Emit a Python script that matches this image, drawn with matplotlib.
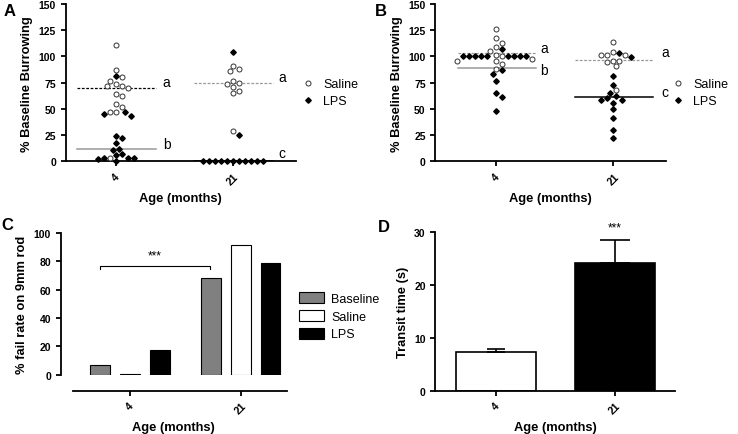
import numpy as np
import matplotlib
matplotlib.use('Agg')
import matplotlib.pyplot as plt
from matplotlib.lines import Line2D
from matplotlib.patches import Patch

plt.rcParams['font.family'] = ['Liberation Sans', 'DejaVu Sans']
plt.rcParams['axes.linewidth'] = 1.3
plt.rcParams['xtick.major.width'] = 1.3
plt.rcParams['ytick.major.width'] = 1.3

ages = ['4', '21']

# Panel A : % baseline burrowing (medians drawn)
a4_saline = [111, 87, 80, 77, 72, 70, 72, 74, 64, 62, 52, 55, 47, 47, 3]
a4_lps = [81, 45, 43, 47, 24, 22, 17, 11, 12, 7, 6, 3, 3, 3, 2, 0]
a21_saline = [91, 86, 88, 75, 74, 77, 71, 65, 67, 29]
a21_lps = [104, 25, 0, 0, 0, 0, 0, 0, 0, 0, 0, 0, 0]

# Panel B : % baseline burrowing (means drawn)
b4_saline = [126, 117.5, 113, 109, 105, 101.5, 96, 96, 98, 93, 100, 88]
b4_lps = [100, 100, 100, 100, 100, 100, 100, 100, 100, 107, 87, 83, 77, 65.5, 61, 48]
b21_saline = [113.7, 104, 101.6, 101, 101.6, 95.8, 94.6, 95.8, 90.7, 68]
b21_lps = [103.5, 99.3, 81, 73, 65, 62, 60, 58, 58, 55.7, 50, 41.7, 30, 22]

# Panel C : % fail rate on 9mm rod
c_groups = ['Baseline', 'Saline', 'LPS']
c_values = {'Baseline': [7.1, 68], 'Saline': [0.4, 91.5], 'LPS': [17.6, 78.8]}

# Panel D : transit time
d_mean = [7.3, 24.2]
d_sem = [0.5, 4.4]

TICK = 7.5
LAB = 9.3


def swarm(vals, xpx=117.0, ypx=157.0 / 150, d=6.0):
    """simple beeswarm : horizontal offsets so that points don't overlap"""
    placed = []
    offs = np.zeros(len(vals))
    order = np.argsort(-np.asarray(vals, dtype=float), kind='stable')
    cand = [0.0]
    for j in range(1, 30):
        cand += [j * d / 2, -j * d / 2]
    for i in order:
        y = vals[i] * ypx
        for c in cand:
            if all((c - px) ** 2 + (y - py) ** 2 >= (d * 0.95) ** 2 for px, py in placed):
                placed.append((c, y))
                offs[i] = c / xpx
                break
    return offs


def style(ax):
    for s in ['top', 'right']:
        ax.spines[s].set_visible(False)
    ax.tick_params(labelsize=TICK, length=3.5)
    for t in ax.get_yticklabels():
        t.set_fontweight('bold')
    ax.set_xticks([0, 1])
    ax.set_xticklabels(ages, rotation=45, fontweight='bold', fontsize=TICK)
    ax.set_xlabel('Age (months)', fontweight='bold', fontsize=LAB)


def burrow_panel(ax, groups, lines, labels, xlim):
    # groups : list of (saline, lps) for each age
    for k, (sal, lps) in enumerate(groups):
        vals = list(sal) + list(lps)
        offs = swarm(vals)
        n = len(sal)
        ax.plot(k + offs[:n], sal, 'o', mfc='white', mec='#333333', mew=0.7, ms=3.6,
                ls='none', clip_on=False, zorder=3)
        ax.plot(k + offs[n:], lps, 'D', color='black', ms=2.8, ls='none',
                clip_on=False, zorder=4)
    for k, (ys, yl, sty) in enumerate(lines):
        ax.plot([k - 0.33, k + 0.34], [ys, ys], color=sty[0], ls=(0, (2.2, 1.3)), lw=0.9, zorder=2)
        ax.plot([k - 0.33, k + 0.34], [yl, yl], color=sty[1], ls='-', lw=1.1, zorder=2)
    for (x, y, t) in labels:
        ax.text(x, y, t, fontsize=10, ha='left', va='center')
    ax.set_xlim(*xlim)
    ax.set_ylim(0, 150)
    ax.set_yticks(np.arange(0, 151, 25))
    style(ax)
    ax.set_ylabel('% Baseline Burrowing', fontweight='bold', fontsize=LAB)
    h = [Line2D([], [], marker='o', mfc='white', mec='#333333', mew=0.7, ms=3.6, ls='none'),
         Line2D([], [], marker='D', color='black', ms=2.8, ls='none')]
    ax.legend(h, ['Saline', 'LPS'], loc='upper left', bbox_to_anchor=(1.0, 0.56),
              frameon=False, fontsize=9, handlelength=1.2, handletextpad=0.6,
              labelspacing=0.4, borderaxespad=0)


fig = plt.figure(figsize=(7.38, 4.35), dpi=100)

# A
axA = fig.add_axes([0.089, 0.627, 0.312, 0.3615])
burrow_panel(axA,
             [(a4_saline, a4_lps), (a21_saline, a21_lps)],
             [(np.median(a4_saline), np.median(a4_lps), ('black', '#999999')),
              (np.median(a21_saline), np.median(a21_lps), ('#999999', 'black'))],
             [(0.40, 76, 'a'), (0.40, 16, 'b'), (1.39, 80, 'a'), (1.39, 8, 'c')],
             (-0.43, 1.54))

# B
axB = fig.add_axes([0.590, 0.627, 0.312, 0.3615])
burrow_panel(axB,
             [(b4_saline, b4_lps), (b21_saline, b21_lps)],
             [(np.mean(b4_saline), np.mean(b4_lps), ('#999999', '#999999')),
              (np.mean(b21_saline), np.mean(b21_lps), ('#999999', 'black'))],
             [(0.38, 108, 'a'), (0.38, 87, 'b'), (1.41, 104, 'a'), (1.41, 66, 'c')],
             (-0.52, 1.45))

# C
axC = fig.add_axes([0.0822, 0.1363, 0.3068, 0.3257])
axC.spines['bottom'].set_position(('outward', 11.5))
axC.spines['bottom'].set_bounds(-0.515, 1.42)
axC.spines['left'].set_bounds(0, 100)
cols = {'Baseline': '#808080', 'Saline': 'white', 'LPS': 'black'}
x = np.arange(len(ages))
for j, g in enumerate(c_groups):
    axC.bar(x + (j - 1) * 0.27, c_values[g], width=0.18, color=cols[g],
            edgecolor='black', linewidth=0.8, label=g)
axC.plot([-0.27, -0.27, 0.72, 0.72], [74.5, 76.5, 76.5, 74.5], color='black', lw=0.8)
axC.text(0.225, 84, '***', ha='center', va='center', fontsize=8.5)
axC.set_xlim(-0.626, 1.42)
axC.set_ylim(0, 100)
axC.set_yticks(np.arange(0, 101, 20))
style(axC)
axC.set_ylabel('% fail rate on 9mm rod', fontweight='bold', fontsize=LAB)
hc = [Patch(facecolor=cols[g], edgecolor='black', linewidth=0.8) for g in c_groups]
axC.legend(hc, c_groups, loc='upper left', bbox_to_anchor=(1.03, 0.62), frameon=False,
           fontsize=9, handlelength=2.0, handleheight=1.0, handletextpad=0.6,
           labelspacing=0.4, borderaxespad=0)

# D
axD = fig.add_axes([0.590, 0.0996, 0.3246, 0.3641])
axD.bar(x, d_mean, width=0.67, color=['white', 'black'], edgecolor='black', linewidth=1.2)
for k in range(len(ages)):
    axD.errorbar(x[k], d_mean[k], yerr=[[0], [d_sem[k]]], color='black', lw=1.2,
                 capsize=[9, 15][k] / 1.39, capthick=1.2)
axD.text(1, 31, '***', ha='center', va='center', fontsize=8.5)
axD.set_xlim(-0.507, 1.504)
axD.set_ylim(0, 30)
axD.set_yticks([0, 10, 20, 30])
style(axD)
axD.set_ylabel('Transit time (s)', fontweight='bold', fontsize=LAB)

# Panel letters
for lab, (px, py) in zip('ABCD', [(10, 12), (381, 12), (7, 226), (384, 228)]):
    fig.text(px / 738, 1 - py / 435, lab, fontsize=12, fontweight='bold',
             ha='center', va='center')

fig.savefig('out.png', dpi=100)
